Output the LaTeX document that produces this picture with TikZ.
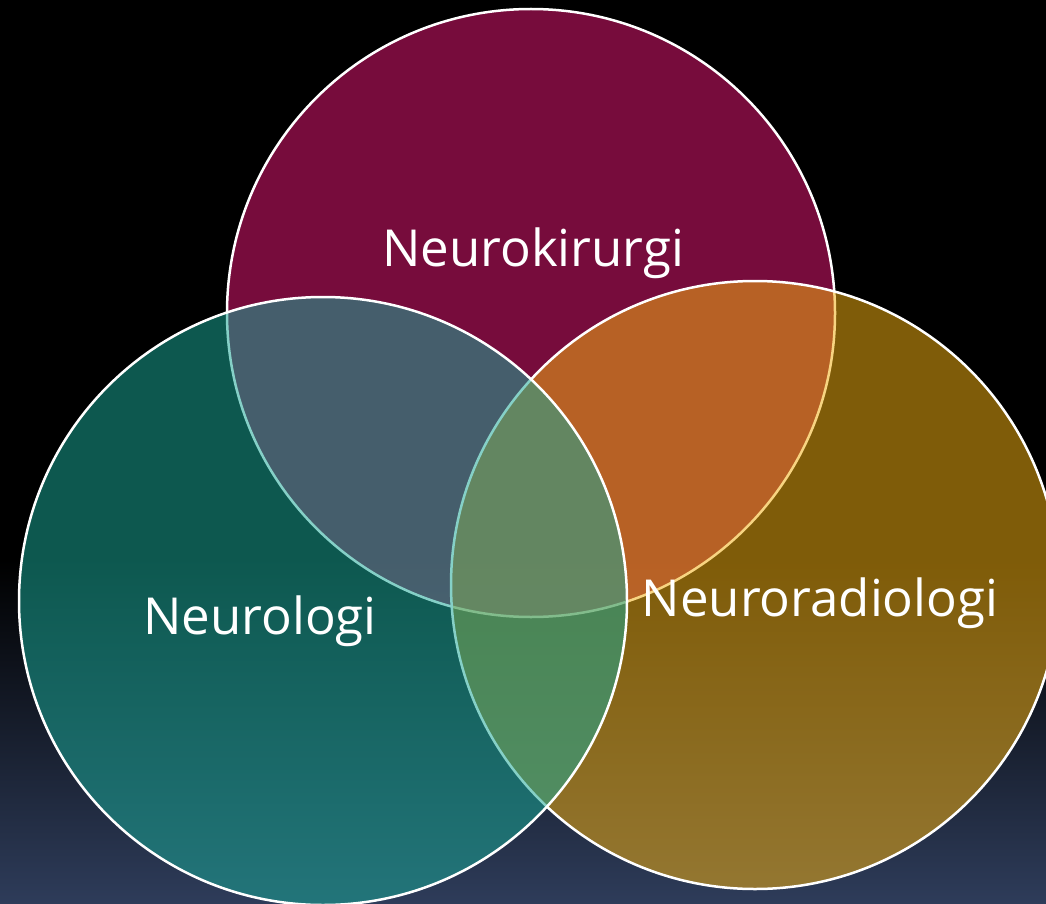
\documentclass[tikz,border=0pt]{standalone}
\usepackage{fontspec}
\setmainfont{Open Sans}
\definecolor{ctop}{RGB}{226,23,115}
\definecolor{cright}{RGB}{241,174,17}
\definecolor{cleft}{RGB}{26,168,151}
\definecolor{bgbot}{RGB}{46,60,90}
\begin{document}
\begin{tikzpicture}[x=1pt,y=-1pt,
  venn/.style={fill opacity=0.53, draw opacity=1, draw=white, line width=2.5pt},
  lbl/.style={text=white, anchor=base, inner sep=0pt, font=\fontsize{51}{61}\selectfont}]
\useasboundingbox (0,0) rectangle (1046,904);
\clip (0,0) rectangle (1046,904);
\fill[black] (0,0) rectangle (1046,904);
\shade[top color=black, bottom color=bgbot] (0,560) rectangle (1046,904);
\path[venn, fill=ctop] (531,313) circle[radius=304];
\path[venn, fill=cright] (755,585) circle[radius=304];
\path[venn, fill=cleft] (323,601) circle[radius=304];
\node[lbl] (nk) at (533,266) {Neurokirurgi};
\node[lbl] (nl) at (260,634) {Neurologi};
\node[lbl] (nr) at (820,616) {Neuroradiologi};
\end{tikzpicture}
\end{document}
